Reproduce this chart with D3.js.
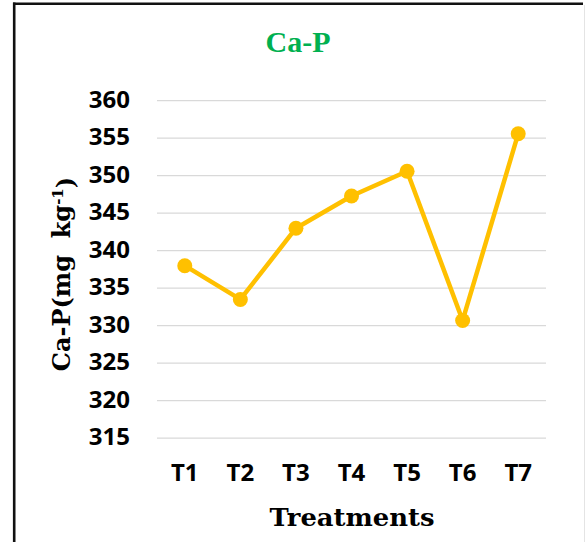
<!DOCTYPE html>
<html>
<head>
<meta charset="utf-8">
<script src="https://cdn.jsdelivr.net/npm/d3@7"></script>
<style>
  body { margin: 0; background: #fff; }
  svg { display: block; }
</style>
</head>
<body>
<div id="line-chart"></div>
<script>
//Data
let treatments = ["T1", "T2", "T3", "T4", "T5", "T6", "T7"];
let caP = [338.0, 333.5, 343.0, 347.3, 350.6, 330.7, 355.6];
let yTicks = [315, 320, 325, 330, 335, 340, 345, 350, 355, 360];

function LineChart(cats, values) {
  //Set width and height of the chart
  let div = "#line-chart";
  let W = 585, H = 542;
  let margin = { top: 100.7, right: 39, bottom: 103.8, left: 157 },
    width = W - margin.left - margin.right,
    height = H - margin.top - margin.bottom;

  let svg = d3
    .select(div)
    .append("svg")
    .attr("width", W)
    .attr("height", H);

  //Outer frame (left and top black, right faint)
  svg.append("line")
    .attr("x1", 14.2).attr("x2", 14.2).attr("y1", 2.5).attr("y2", H)
    .style("stroke", "#111").style("stroke-width", 2.6);
  svg.append("line")
    .attr("x1", 13).attr("x2", 583).attr("y1", 3.7).attr("y2", 3.7)
    .style("stroke", "#111").style("stroke-width", 2.4);
  svg.append("line")
    .attr("x1", 584.5).attr("x2", 584.5).attr("y1", 5).attr("y2", H)
    .style("stroke", "#e4e4e4").style("stroke-width", 1);

  //Title
  svg.append("text")
    .attr("x", 298)
    .attr("y", 52)
    .attr("text-anchor", "middle")
    .style("font-family", "'Liberation Serif', 'Times New Roman', serif")
    .style("font-weight", "bold")
    .style("font-size", "30px")
    .style("fill", "#00B050")
    .text("Ca-P");

  let g = svg.append("g")
    .attr("transform", "translate(" + margin.left + "," + margin.top + ")");

  //Scales
  let xScale = d3.scaleBand().domain(cats).range([0, width]);
  let yScale = d3.scaleLinear().domain([315, 360]).range([height, 0]);

  //Gridlines
  g.append("g")
    .attr("class", "grid")
    .selectAll("line")
    .data(yTicks)
    .enter()
    .append("line")
    .attr("x1", 0)
    .attr("x2", width)
    .attr("y1", function (d) { return yScale(d); })
    .attr("y2", function (d) { return yScale(d); })
    .style("stroke", "#d9d9d9")
    .style("stroke-width", 1.2);

  //Y axis tick labels
  let yAxis = d3.axisLeft(yScale).tickValues(yTicks).tickSize(0).tickPadding(27);
  g.append("g")
    .attr("class", "axis")
    .call(yAxis)
    .call(function (a) { a.select(".domain").remove(); })
    .selectAll("text")
    .attr("dy", "0.28em")
    .style("font-family", "'Open Sans', sans-serif")
    .style("font-weight", "bold")
    .style("font-size", "24px")
    .style("fill", "#000");

  //X axis tick labels
  let xAxis = d3.axisBottom(xScale).tickSize(0).tickPadding(37);
  g.append("g")
    .attr("class", "axis")
    .attr("transform", "translate(0," + height + ")")
    .call(xAxis)
    .call(function (a) { a.select(".domain").remove(); })
    .selectAll("text")
    .attr("dy", "0.25em")
    .style("font-family", "'Open Sans', sans-serif")
    .style("font-weight", "bold")
    .style("font-size", "24px")
    .style("fill", "#000");

  //Line
  let line = d3.line()
    .x(function (d, i) { return xScale(cats[i]) + xScale.bandwidth() / 2; })
    .y(function (d) { return yScale(d); });

  g.append("path")
    .datum(values)
    .attr("d", line)
    .style("fill", "none")
    .style("stroke", "#FFC000")
    .style("stroke-width", 4.5)
    .style("stroke-linejoin", "round");

  //Markers
  g.selectAll(".dot")
    .data(values)
    .enter()
    .append("circle")
    .attr("class", "dot")
    .attr("cx", function (d, i) { return xScale(cats[i]) + xScale.bandwidth() / 2; })
    .attr("cy", function (d) { return yScale(d); })
    .attr("r", 7.5)
    .style("fill", "#FFC000");

  //X axis title
  svg.append("text")
    .attr("x", 352)
    .attr("y", 526)
    .attr("text-anchor", "middle")
    .style("font-family", "'DejaVu Serif', serif")
    .style("font-weight", "bold")
    .style("font-size", "24px")
    .attr("textLength", 165)
    .attr("lengthAdjust", "spacingAndGlyphs")
    .text("Treatments");

  //Y axis title
  let yt = svg.append("text")
    .attr("transform", "translate(70,274) rotate(-90)")
    .attr("text-anchor", "middle")
    .style("font-family", "'DejaVu Serif', serif")
    .style("font-weight", "bold")
    .style("font-size", "24px")
    .style("fill", "#000");
  yt.append("tspan").text("Ca-P(mg\u00a0\u00a0kg");
  yt.append("tspan").attr("dy", "-0.45em").style("font-size", "15px").text("-1");
  yt.append("tspan").attr("dy", "0.45em").text(")");
} // end of LineChart

LineChart(treatments, caP);
</script>
</body>
</html>
